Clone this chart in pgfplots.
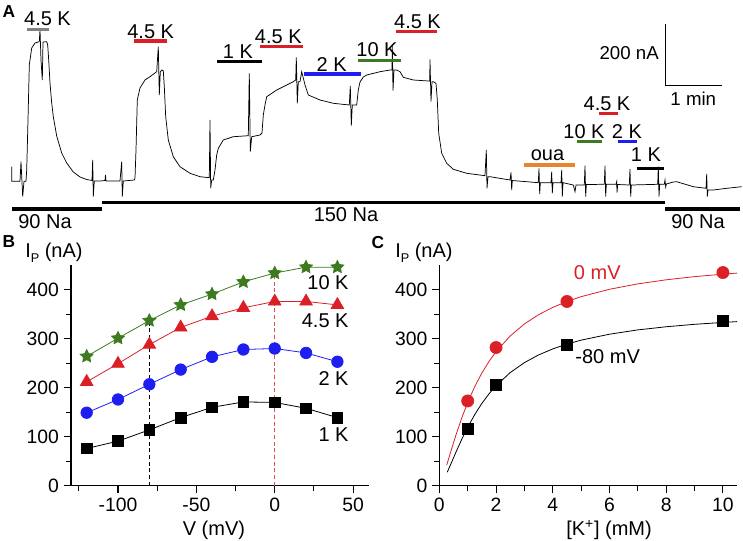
\documentclass[border=0pt]{standalone}
\usepackage{fontspec}
\setmainfont{Liberation Sans}
\usepackage{pgfplots}
\pgfplotsset{compat=1.18}

\definecolor{kred}{RGB}{218,32,38}
\definecolor{kblue}{RGB}{30,30,240}
\definecolor{kgreen}{RGB}{62,122,32}
\definecolor{korange}{RGB}{232,133,42}
\definecolor{kgrey}{RGB}{128,128,128}
\newcommand\fsz{\fontsize{15}{17}\selectfont}
\newcommand\tsz{\fontsize{14.5}{16}\selectfont}
\newcommand\ssz{\fontsize{14}{16}\selectfont}
\newcommand\ip{I\raisebox{-0.45ex}{\fontsize{9.5}{10}\selectfont P}}

% filled five-point star
\pgfdeclareplotmark{fstar}{%
  \pgfpathmoveto{\pgfpointpolar{90}{\pgfplotmarksize}}%
  \pgfpathlineto{\pgfpointpolar{126}{0.5\pgfplotmarksize}}%
  \pgfpathlineto{\pgfpointpolar{162}{\pgfplotmarksize}}%
  \pgfpathlineto{\pgfpointpolar{198}{0.5\pgfplotmarksize}}%
  \pgfpathlineto{\pgfpointpolar{234}{\pgfplotmarksize}}%
  \pgfpathlineto{\pgfpointpolar{270}{0.5\pgfplotmarksize}}%
  \pgfpathlineto{\pgfpointpolar{306}{\pgfplotmarksize}}%
  \pgfpathlineto{\pgfpointpolar{342}{0.5\pgfplotmarksize}}%
  \pgfpathlineto{\pgfpointpolar{18}{\pgfplotmarksize}}%
  \pgfpathlineto{\pgfpointpolar{54}{0.5\pgfplotmarksize}}%
  \pgfpathclose
  \pgfusepathqfillstroke}

\pgfplotsset{
  panel/.style={
    scale only axis, width=223.3pt, height=165.4pt,
    ymin=0, ymax=450,
    axis x line=bottom, axis y line=left,
    axis line style={line width=0.9pt,-},
    tick align=outside, major tick length=5.5pt, minor tick length=4pt,
    tick style={black, line width=0.8pt},
    ytick={0,100,200,300,400}, yticklabels={0,100,200,300,400},
    minor ytick={50,150,250,350},
    ticklabel style={font=\tsz}, label style={font=\fsz},
    clip=false,
  },
  bar/.style={line width=2.3pt, forget plot},
}

\begin{document}
\begin{tikzpicture}
\useasboundingbox (0,0) rectangle (557.25pt,405pt);

% ---------- panel A: trace in pixel coordinates ----------
\begin{axis}[
    at={(0,0)}, anchor=south west,
    scale only axis, width=557.25pt, height=405pt,
    xmin=0, xmax=743, ymin=0, ymax=540, y dir=reverse,
    hide axis, clip=false,
]
\addplot[black, line width=0.55pt] coordinates {
(11.7,166.7)(11.7,181.3)(20,181.3)(21,161.7)(22.7,196.7)(24,181.3)(26,181.3)
(26.7,170)(28,120)(29.3,65)(31.7,48)(35,43)(39.3,41.7)(40,30)(41,60)(42.3,80)
(43,42)(46.7,41.7)(47.7,45)(48.7,60)(50,83)(51.7,103)(53.3,116.7)(56.7,136)
(61.7,153)(66.7,163)(73.3,172)(80,177)(86.7,179.5)(92,180.5)(92.7,160)
(93.3,196.7)(94.3,181)(100,181)(105,180.5)(105.5,175)(106,181)(120,181)
(121.7,161.7)(122.3,196.7)(123.3,181)(134.3,180)
(135,178)(136,150)(137.3,100)(140,88)(145,80)(150,76.7)(156.7,71.7)(158.3,46.7)
(159.3,95)(160.3,72)(161.7,70)(163.3,70.7)(164.3,86.7)(165.7,116.7)(168.3,140)
(173.3,156.7)(180,166.7)(190,173.3)(200,176.7)(209.3,177.7)(210,120)(210.7,188.3)
(211.7,180)
(213.3,180)(215,170)(216.7,155)(218.3,148.3)(223.3,140)(233.3,136.7)(248.3,135.7)
(249.3,73.3)(250.3,151.7)(251.7,136.7)(260,135)(262,133)(263.3,115)(265,105)
(266.7,96.7)(276.7,90)(293.3,81.7)(295.7,80)(296.3,57.3)(297.3,103.3)(298.3,81.7)
(300,81.7)(301.7,71.7)(303.3,78)(305,85)(308.3,95)(320,100)(333.3,103.3)
(349.3,105)(350.3,86)(351.3,125.7)(352.3,105)(356.7,105)(358.3,90)(360,82)
(363.3,77)(366.7,75)(380,71.7)(390,70)(392,70)(392.3,45)(393,90.7)(394,70)
(396.7,70)(400,71.7)(403.3,77.3)(413.3,80)(428.3,81)(429.7,81)(430,59.3)
(431,101.7)(432,81.7)(433.3,81.7)(436,83.3)(437.3,100)(438.7,133.3)(441.7,153.3)
(446.7,163.3)(453.3,169.3)(466.7,173.3)(485,175.7)(486.3,150)(487,188.3)
(488,176.7)(490,176.7)(510,180)(511,172.3)(511.7,190)(512.3,180.5)(526.7,181.7)
(538.3,182.7)(539,168.3)(539.7,194)(540.3,182.7)(551,182.7)(551.7,171.7)
(552.3,193.3)(553,182.7)(561,182.7)(561.7,170)(562.3,196.7)(563,182.7)
(573.3,185)(575,191.7)(576,185)(584.3,185)(585,165.7)(585.7,196.7)(586.3,184.5)
(604.3,184.3)(605,165.7)(605.7,196.7)(606.3,184.3)(616,184.3)(616.7,181.7)
(617,192.7)(617.7,184.5)(629.3,185)(630,169)(630.7,196.7)(631.3,185)
(657.7,184.3)(658.3,166.7)(659,196.7)(659.7,184.3)(664.3,184.3)(665,180)
(665.7,187)(666.3,184)(673.3,182)(676.7,181.7)(693.3,186.7)(706,188.3)
(706.7,174)(707.3,196.7)(708,190)(713.3,190)(726.7,188.3)(741.7,186.7)
};
% solution bars
\addplot[bar, kgrey]   coordinates {(27,29.3)(49,29.3)};
\addplot[bar, kred]    coordinates {(134,41)(167,41)};
\addplot[bar, black]   coordinates {(217,61.3)(262,61.3)};
\addplot[bar, kred]    coordinates {(260,46.7)(303,46.7)};
\addplot[bar, kblue]   coordinates {(304,74)(361,74)};
\addplot[bar, kgreen]  coordinates {(358,60.7)(401,60.7)};
\addplot[bar, kred]    coordinates {(396,31.7)(437,31.7)};
\addplot[bar, korange] coordinates {(524,165)(575,165)};
\addplot[bar, kgreen]  coordinates {(577,141.7)(602,141.7)};
\addplot[bar, kred]    coordinates {(599,113.3)(618,113.3)};
\addplot[bar, kblue]   coordinates {(618,141.7)(637,141.7)};
\addplot[bar, black]   coordinates {(637,168.3)(664,168.3)};
\addplot[bar, black]   coordinates {(12,209)(102,209)};
\addplot[bar, black]   coordinates {(102,202.7)(665,202.7)};
\addplot[bar, black]   coordinates {(665,209)(740,209)};
% scale bar
\addplot[black, line width=0.7pt, forget plot] coordinates {(665,24)(665,85)(722,85)};

\begin{scope}[every node/.style={font=\fsz, inner sep=0pt}]
\node at (axis cs:47.5,19) {4.5 K};
\node at (axis cs:150.7,31.7) {4.5 K};
\node at (axis cs:238,51.7) {1 K};
\node at (axis cs:278.3,36.7) {4.5 K};
\node at (axis cs:331.7,64.3) {2 K};
\node at (axis cs:377,50) {10 K};
\node at (axis cs:417.5,21.7) {4.5 K};
\node[anchor=east, font=\ssz] at (axis cs:659,53.3) {200 nA};
\node[font=\ssz] at (axis cs:693.3,98.3) {1 min};
\node at (axis cs:547.5,155) {oua};
\node at (axis cs:584,131.7) {10 K};
\node at (axis cs:607,104) {4.5 K};
\node at (axis cs:627,131.7) {2 K};
\node at (axis cs:646,155) {1 K};
\node at (axis cs:45,222) {90 Na};
\node at (axis cs:346,215) {150 Na};
\node at (axis cs:698,222) {90 Na};
\node[font=\fontsize{13}{15}\selectfont\bfseries] at (axis cs:9,12) {A};
\node[font=\fontsize{13}{15}\selectfont\bfseries] at (axis cs:9,242) {B};
\node[font=\fontsize{13}{15}\selectfont\bfseries] at (axis cs:378,243) {C};
\node[anchor=west] at (axis cs:25,253) {\ip{} (nA)};
\node[anchor=west] at (axis cs:395,253) {\ip{} (nA)};
\end{scope}
\end{axis}

% ---------- panel B: I-V curves ----------
\begin{axis}[panel,
    at={(53.25pt,40.7pt)}, anchor=south west,
    xmin=-130, xmax=60,
    xtick={-100,-50,0,50}, xticklabels={-100,-50,0,50},
    minor xtick={-125,-75,-25,25},
    xlabel={V (mV)}, xlabel style={at={(ticklabel cs:0.48)}},
]
\addplot[black, dashed, line width=0.6pt, dash pattern=on 3pt off 2pt] coordinates {(-80,0)(-80,350)};
\addplot[kred!80, dashed, line width=0.6pt, dash pattern=on 3pt off 2pt] coordinates {(0,0)(0,440)};
\addplot[kgreen, line width=0.6pt, mark=fstar, mark size=5pt, mark options={fill=kgreen}] coordinates {
(-120,264)(-100,301)(-80,337)(-60,369)(-40,391)(-20,416)(0,434)(20,446)(40,446)};
\addplot[kred, line width=0.6pt, mark=triangle*, mark size=5.4pt] coordinates {
(-120,212)(-100,249)(-80,288)(-60,323)(-40,346)(-20,363)(0,376)(20,376)(40,369)};
\addplot[kblue, line width=0.6pt, mark=*, mark size=4.3pt] coordinates {
(-120,149)(-100,176)(-80,207)(-60,237)(-40,263)(-20,278)(0,280)(20,271)(40,253)};
\addplot[black, line width=0.6pt, mark=square*, mark size=4pt] coordinates {
(-120,76)(-100,91)(-80,114)(-60,139)(-40,160)(-20,171)(0,170)(20,158)(40,139)};
\begin{scope}[every node/.style={font=\fsz, inner sep=0pt, anchor=east}]
\node at (axis cs:47.3,415) {10 K};
\node at (axis cs:47.3,337) {4.5 K};
\node at (axis cs:47.3,218) {2 K};
\node at (axis cs:47.3,105) {1 K};
\end{scope}
\end{axis}

% ---------- panel C: K dependence ----------
\begin{axis}[panel,
    at={(329.5pt,40.7pt)}, anchor=south west,
    xmin=0, xmax=10.5,
    xtick={0,2,4,6,8,10}, xticklabels={0,2,4,6,8,10},
    minor xtick={1,3,5,7,9},
    xlabel={[K\textsuperscript{+}] (mM)}, xlabel style={at={(ticklabel cs:0.57)}},
]
\addplot[kred, line width=0.6pt] coordinates {
(0.26,42.0)(0.4,68.9)(0.6,106.0)(0.8,139.8)(1,169.8)(1.25,202.4)(1.5,230.0)
(1.75,253.5)(2,273.6)(2.5,305.7)(3,330.1)(3.5,349.0)(4,363.9)(4.5,375.9)
(5,385.8)(6,400.9)(7,411.9)(8,420.2)(9,426.7)(10,431.7)(10.5,433.9)};
\addplot[black, line width=0.6pt] coordinates {
(0.28,27.7)(0.4,43.5)(0.6,70.3)(0.8,95.9)(1,119.4)(1.25,145.4)(1.5,168.0)
(1.75,187.4)(2,204.1)(2.5,230.9)(3,251.2)(3.5,266.9)(4,279.2)(4.5,289.0)
(5,297.1)(6,309.2)(7,318.0)(8,324.4)(9,329.4)(10,333.2)(10.5,334.9)};
\addplot[kred, only marks, mark=*, mark size=4.6pt] coordinates {
(1,173)(2,282)(4.5,376)(10,435)};
\addplot[black, only marks, mark=square*, mark size=4pt] coordinates {
(1,116)(2,206)(4.5,288)(10,337)};
\node[font=\fsz, inner sep=0pt, text=kred] at (axis cs:5.57,434) {0 mV};
\node[font=\fsz, inner sep=0pt, anchor=west] at (axis cs:4.79,263) {-80 mV};
\end{axis}
\end{tikzpicture}
\end{document}
